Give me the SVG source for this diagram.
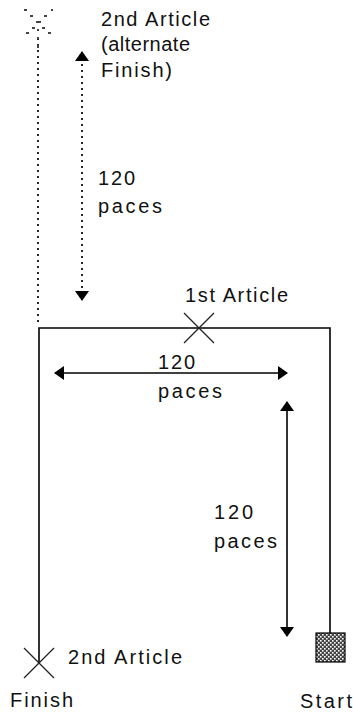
<svg xmlns="http://www.w3.org/2000/svg" width="353" height="718" viewBox="0 0 353 718">
<style>
text{font-family:"Liberation Sans",Arial,sans-serif;font-size:20px;fill:#111;}
.path{fill:none;stroke:#000;stroke-width:1.6;}
.dot{fill:none;stroke:#000;stroke-width:1.7;stroke-dasharray:2 4;}
.arr{fill:none;stroke:#000;stroke-width:1.6;}
.x{stroke:#222;stroke-width:1.2;}
</style>
<defs>
<marker id="ah" viewBox="0 0 10 14" refX="9" refY="7" markerWidth="10" markerHeight="14" markerUnits="userSpaceOnUse" orient="auto-start-reverse">
<path d="M0,0 L10,7 L0,14 Z" fill="#000"/>
</marker>
<pattern id="chk" width="4" height="4" patternUnits="userSpaceOnUse">
<rect width="4" height="4" fill="#444"/>
<rect x="0" y="0" width="1.6" height="1.6" fill="#fff"/>
<rect x="2" y="2" width="1.6" height="1.6" fill="#fff"/>
</pattern>
</defs>
<g id="connectors">
<path class="path" d="M39,663 V328 H330 V633"/>
<line class="dot" x1="38" y1="38" x2="38" y2="326"/>
<line class="dot" x1="82" y1="52" x2="82" y2="300" marker-start="url(#ah)" marker-end="url(#ah)"/>
<line class="arr" x1="55" y1="373" x2="287" y2="373" marker-start="url(#ah)" marker-end="url(#ah)"/>
<line class="arr" x1="287" y1="402" x2="287" y2="636" marker-start="url(#ah)" marker-end="url(#ah)"/>
</g>
<g id="alt-finish">
<g fill="#444">
<rect x="24" y="9" width="3" height="2"/>
<rect x="51" y="9" width="2" height="2"/>
<rect x="30" y="15" width="3" height="2"/>
<rect x="44" y="15" width="3" height="2"/>
<rect x="36" y="21" width="5" height="2"/>
<rect x="32" y="27" width="3" height="2"/>
<rect x="42" y="27" width="3" height="2"/>
<rect x="37" y="29" width="2" height="2"/>
<rect x="26" y="32" width="3" height="2"/>
<rect x="48" y="32" width="3" height="2"/>
<rect x="37" y="37" width="2" height="2"/>
<rect x="37" y="45" width="2" height="3"/>
</g>
<text x="101" y="26" textLength="109" lengthAdjust="spacing">2nd Article</text>
<text x="101" y="51" textLength="89" lengthAdjust="spacing">(alternate</text>
<text x="101" y="77" textLength="71" lengthAdjust="spacing">Finish)</text>
</g>
<g id="label-left">
<text x="98" y="185" textLength="37" lengthAdjust="spacing">120</text>
<text x="98" y="213" textLength="64" lengthAdjust="spacing">paces</text>
</g>
<g id="first-article">
<line class="x" x1="184" y1="313" x2="214" y2="343"/>
<line class="x" x1="214" y1="313" x2="184" y2="343"/>
<text x="185" y="302" textLength="103" lengthAdjust="spacing">1st Article</text>
</g>
<g id="label-mid">
<text x="158" y="369" textLength="37" lengthAdjust="spacing">120</text>
<text x="158" y="398" textLength="64" lengthAdjust="spacing">paces</text>
</g>
<g id="label-right">
<text x="214" y="519" textLength="39" lengthAdjust="spacing">120</text>
<text x="214" y="548" textLength="63" lengthAdjust="spacing">paces</text>
</g>
<g id="finish">
<line class="x" x1="24" y1="648" x2="54" y2="678"/>
<line class="x" x1="54" y1="648" x2="24" y2="678"/>
<text x="68" y="664" textLength="114" lengthAdjust="spacing">2nd Article</text>
<text x="10" y="707" textLength="63" lengthAdjust="spacing">Finish</text>
</g>
<g id="start">
<rect x="316" y="633" width="29" height="29" fill="url(#chk)" stroke="#000" stroke-width="1.2"/>
<text x="300" y="708" textLength="52" lengthAdjust="spacing">Start</text>
</g>
</svg>
